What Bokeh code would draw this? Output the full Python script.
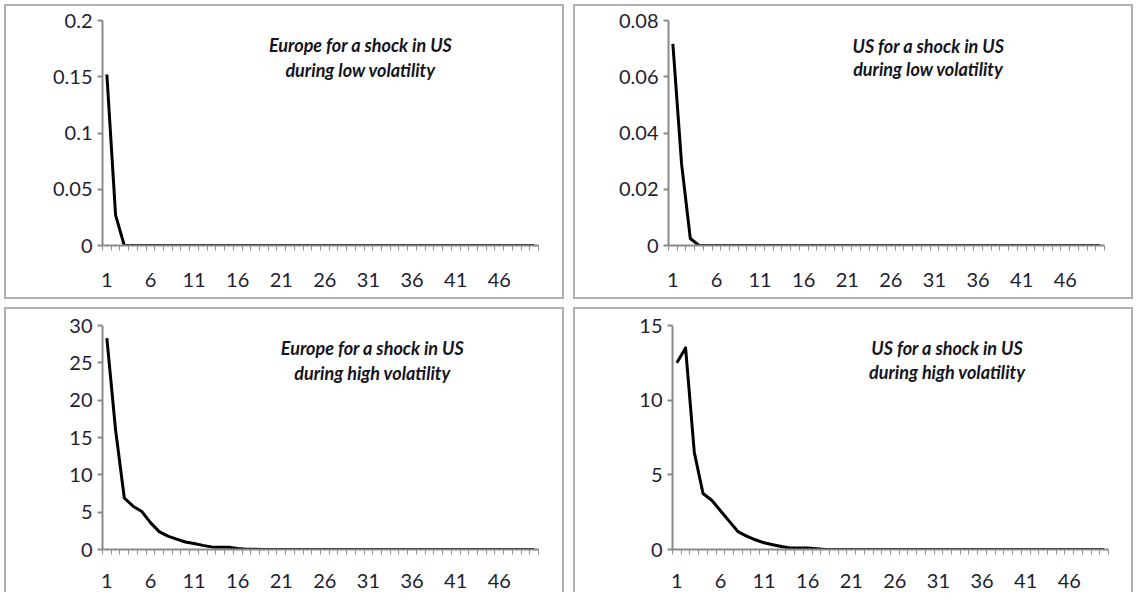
from bokeh.plotting import figure
from bokeh.layouts import column, row
from bokeh.models import FixedTicker, Range1d, CustomJSTickFormatter, Label
from bokeh.embed import file_html
from bokeh.resources import INLINE

# ---------------- data ----------------
periods = list(range(1, 51))
x_tick_labels = [1, 6, 11, 16, 21, 26, 31, 36, 41, 46]

europe_low = [0.152, 0.027, 0.0, 0.0, 0.0, 0.0, 0.0, 0.0, 0.0, 0.0,
              0.0, 0.0, 0.0, 0.0, 0.0, 0.0, 0.0, 0.0, 0.0, 0.0,
              0.0, 0.0, 0.0, 0.0, 0.0, 0.0, 0.0, 0.0, 0.0, 0.0,
              0.0, 0.0, 0.0, 0.0, 0.0, 0.0, 0.0, 0.0, 0.0, 0.0,
              0.0, 0.0, 0.0, 0.0, 0.0, 0.0, 0.0, 0.0, 0.0, 0.0]
us_low = [0.0717, 0.029, 0.0025, 0.0, 0.0, 0.0, 0.0, 0.0, 0.0, 0.0,
          0.0, 0.0, 0.0, 0.0, 0.0, 0.0, 0.0, 0.0, 0.0, 0.0,
          0.0, 0.0, 0.0, 0.0, 0.0, 0.0, 0.0, 0.0, 0.0, 0.0,
          0.0, 0.0, 0.0, 0.0, 0.0, 0.0, 0.0, 0.0, 0.0, 0.0,
          0.0, 0.0, 0.0, 0.0, 0.0, 0.0, 0.0, 0.0, 0.0, 0.0]
europe_high = [28.3, 16.0, 6.9, 5.8, 5.1, 3.6, 2.4, 1.8, 1.4, 1.0,
               0.8, 0.55, 0.35, 0.3, 0.3, 0.12, 0.05, 0.03, 0.0, 0.0,
               0.0, 0.0, 0.0, 0.0, 0.0, 0.0, 0.0, 0.0, 0.0, 0.0,
               0.0, 0.0, 0.0, 0.0, 0.0, 0.0, 0.0, 0.0, 0.0, 0.0,
               0.0, 0.0, 0.0, 0.0, 0.0, 0.0, 0.0, 0.0, 0.0, 0.0]
us_high = [12.5, 13.5, 6.5, 3.75, 3.3, 2.6, 1.9, 1.2, 0.9, 0.65,
           0.45, 0.32, 0.2, 0.1, 0.1, 0.1, 0.05, 0.0, 0.0, 0.0,
           0.0, 0.0, 0.0, 0.0, 0.0, 0.0, 0.0, 0.0, 0.0, 0.0,
           0.0, 0.0, 0.0, 0.0, 0.0, 0.0, 0.0, 0.0, 0.0, 0.0,
           0.0, 0.0, 0.0, 0.0, 0.0, 0.0, 0.0, 0.0, 0.0, 0.0]

titles = [
    ("Europe for a shock in US", "during low volatility"),
    ("US for a shock in US", "during low volatility"),
    ("Europe for a shock in US", "during high volatility"),
    ("US for a shock in US", "during high volatility"),
]
y_ticks = [
    [0, 0.05, 0.1, 0.15, 0.2],
    [0, 0.02, 0.04, 0.06, 0.08],
    [0, 5, 10, 15, 20, 25, 30],
    [0, 5, 10, 15],
]

AXIS_GRAY = "#8a8a8a"
TEXT = "#1e1e30"
FONT = "Lato"

fmt = CustomJSTickFormatter(code="return String(Math.round(tick*1000)/1000);")


def make_panel(yvals, yt, title, w, h, mb, label_pos, standoff, bottom_border=True):
    p = figure(width=w, height=h, output_backend="svg", toolbar_location=None,
               x_range=Range1d(0.5, 50.5), y_range=Range1d(yt[0], yt[-1]),
               min_border_left=mb[0], min_border_right=mb[1],
               min_border_top=mb[2], min_border_bottom=mb[3])
    p.outline_line_color = None
    p.xgrid.visible = False
    p.ygrid.visible = False
    p.background_fill_color = "white"
    p.border_fill_color = "white"

    p.line(periods, yvals, line_color="black", line_width=3, line_join="round")

    xa = p.xaxis[0]
    xa.ticker = FixedTicker(ticks=x_tick_labels,
                            minor_ticks=[i + 0.5 for i in range(0, 51)])
    xa.major_tick_out = 0
    xa.major_tick_in = 0
    xa.minor_tick_out = 5
    xa.minor_tick_in = 0
    xa.minor_tick_line_color = AXIS_GRAY
    xa.minor_tick_line_width = 1
    xa.axis_line_color = AXIS_GRAY
    xa.axis_line_width = 2
    xa.major_label_standoff = standoff
    xa.major_label_text_font = FONT
    xa.major_label_text_font_size = "20px"
    xa.major_label_text_color = TEXT

    ya = p.yaxis[0]
    ya.ticker = FixedTicker(ticks=yt, minor_ticks=[])
    ya.formatter = fmt
    ya.major_tick_out = 5
    ya.major_tick_in = 0
    ya.major_tick_line_color = AXIS_GRAY
    ya.major_tick_line_width = 2
    ya.axis_line_color = AXIS_GRAY
    ya.axis_line_width = 2
    ya.major_label_standoff = 5
    ya.major_label_text_font = FONT
    ya.major_label_text_font_size = "20px"
    ya.major_label_text_color = TEXT

    lx, ly1, ly2 = label_pos
    for txt, yy in ((title[0], ly1), (title[1], ly2)):
        p.add_layout(Label(x=lx, y=yy, text=txt, text_align="center",
                           text_baseline="middle", text_font=FONT,
                           text_font_size="18px", text_font_style="bold italic",
                           text_color="#141420"))

    border = "2px solid #b0b0b0"
    st = {"border-left": border, "border-right": border, "border-top": border}
    st["border-bottom"] = border if bottom_border else "none"
    p.styles = st
    return p


p1 = make_panel(europe_low, y_ticks[0], titles[0], 560, 295, (96, 28, 14, 56),
                (30.1, 0.1778, 0.1564), 22)
p2 = make_panel(us_low, y_ticks[1], titles[1], 560, 295, (93, 31, 14, 56),
                (30.3, 0.0711, 0.0626), 22)
p3 = make_panel(europe_high, y_ticks[2], titles[2], 560, 285, (96, 28, 16, 45),
                (31.46, 27.0, 23.67), 19, bottom_border=False)
p4 = make_panel(us_high, y_ticks[3], titles[3], 560, 285, (97, 27, 14, 45),
                (32.0, 13.49, 11.89), 19, bottom_border=False)

layout = column(row(p1, p2, spacing=9), row(p3, p4, spacing=9), spacing=8,
                margin=(4, 0, 0, 4))

open("out.html", "w").write(file_html(layout, INLINE))
